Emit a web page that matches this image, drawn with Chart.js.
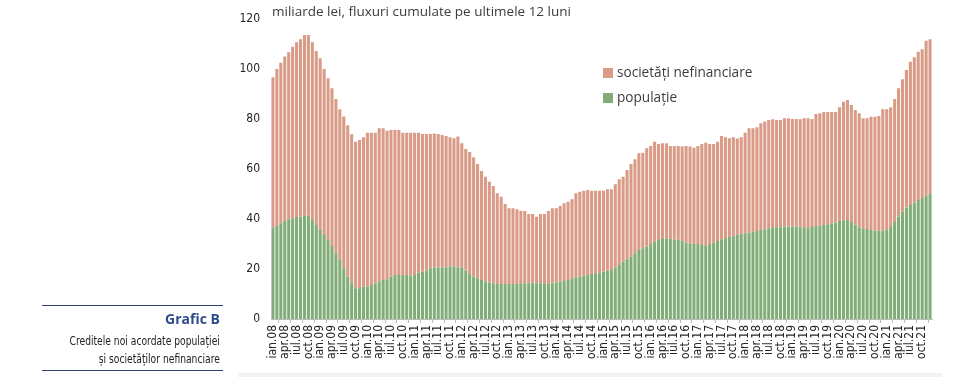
<!DOCTYPE html>
<html lang="ro">
<head>
<meta charset="utf-8">
<title>Grafic B</title>
<script src="https://cdn.jsdelivr.net/npm/chart.js@4.4.1/dist/chart.umd.min.js"></script>
<style>
    html, body { margin: 0; padding: 0; background: #fff; }
    #wrap { position: relative; width: 960px; height: 377px; overflow: hidden; }
    #chartBox { position: absolute; left: 0; top: 0; width: 960px; height: 377px; }
    .unit { position: absolute; left: 272px; top: 2px; font: 13.5px 'Open Sans', sans-serif; color: #3c3c3c; white-space: nowrap; }
    #legend { position: absolute; left: 603px; top: 62px; font: 13.6px 'Open Sans', sans-serif; color: #3c3c3c; }
    #legend div { height: 25px; line-height: 20px; white-space: nowrap; }
    #legend span { display: inline-block; width: 10px; height: 10px; margin-right: 4px; vertical-align: -1px; }
    .rule { position: absolute; left: 42px; width: 181px; height: 1px; border-top: 1.5px solid #2d4270; }
    .gtitle { position: absolute; right: 740px; top: 309px; font: bold 14px 'Open Sans', sans-serif; color: #2f4b8f; white-space: nowrap; }
    .gsub { position: absolute; right: 740px; top: 332px; font: 12px 'Liberation Sans Narrow', 'DejaVu Sans Condensed', sans-serif; color: #222; line-height: 18px; text-align: right; white-space: nowrap; transform: scaleX(0.85); transform-origin: right top; }
    .band { position: absolute; left: 238px; top: 373px; width: 704px; height: 4px; background: #f1f1f1; }
</style>
</head>
<body>
<div id="wrap">
    <div id="chartBox"><canvas id="creditChart"></canvas></div>
    <div class="unit">miliarde lei, fluxuri cumulate pe ultimele 12 luni</div>
    <div id="legend"></div>
    <div class="rule" style="top:305px"></div>
    <div class="gtitle">Grafic B</div>
    <div class="gsub">Creditele noi acordate populației<br>și societăților nefinanciare</div>
    <div class="rule" style="top:370px"></div>
    <div class="band"></div>
</div>
<script>
// luni / ani pentru axa X
const luni = ['ian', 'feb', 'mar', 'apr', 'mai', 'iun', 'iul', 'aug', 'sep', 'oct', 'nov', 'dec'];
const ani = ['08', '09', '10', '11', '12', '13', '14', '15', '16', '17', '18', '19', '20', '21'];
const categorii = [];
ani.forEach(an => luni.forEach(l => categorii.push(l + '.' + an)));

const yTicks = [0, 20, 40, 60, 80, 100, 120];

// populație (mld. lei, fluxuri cumulate 12 luni)
const populatie = [
    36.7, 37.2, 38.3, 39.2, 39.9, 40.3, 40.8, 40.9, 41.2, 41.3, 39.6, 37.6,
    35.6, 33.6, 31.6, 29.2, 26.3, 23.6, 20.3, 16.9, 14.3, 12.3, 12.3, 12.9,
    12.9, 13.6, 14.3, 14.9, 15.6, 15.9, 16.9, 17.6, 17.6, 17.6, 17.6, 17.3,
    17.6, 18.5, 18.9, 19.3, 20.3, 20.6, 20.6, 20.6, 20.7, 21.1, 21.1, 20.7,
    20.6, 19.3, 18.0, 16.9, 16.3, 15.6, 15.0, 14.6, 14.3, 14.0, 14.0, 14.0,
    14.0, 14.0, 14.0, 14.3, 14.3, 14.3, 14.6, 14.3, 14.3, 14.3, 14.0, 14.3,
    14.6, 15.0, 15.2, 15.6, 16.0, 16.7, 17.0, 17.3, 17.6, 18.0, 18.3, 18.6,
    18.9, 19.3, 19.6, 20.6, 21.6, 22.9, 23.9, 24.9, 26.3, 27.6, 28.3, 28.9,
    30.0, 30.9, 31.6, 32.0, 32.3, 32.0, 31.8, 31.6, 31.3, 30.5, 30.2, 30.0,
    30.0, 29.6, 29.2, 30.0, 30.5, 31.2, 31.9, 32.3, 32.8, 33.3, 33.7, 34.1,
    34.3, 34.5, 34.9, 35.2, 35.6, 35.9, 36.3, 36.7, 36.7, 36.7, 37.0, 37.0,
    37.0, 37.0, 36.7, 36.7, 36.3, 36.8, 37.2, 37.4, 37.6, 37.9, 38.2, 38.6,
    39.2, 39.5, 39.6, 38.8, 37.8, 36.7, 36.3, 36.0, 35.6, 35.3, 35.2, 35.3,
    35.6, 36.8, 38.8, 41.0, 43.0, 44.6, 45.6, 46.6, 47.6, 48.4, 49.3, 50.0
];

// societăți nefinanciare
const societati = [
    60.0, 62.8, 64.2, 65.8, 66.8, 68.6, 69.9, 71.0, 72.4, 72.3, 71.1, 69.6,
    68.7, 66.4, 64.7, 63.1, 61.7, 60.3, 60.7, 60.6, 59.6, 58.6, 59.3, 59.8,
    61.6, 60.9, 60.2, 61.4, 60.7, 59.4, 58.7, 58.0, 58.0, 56.9, 56.9, 57.2,
    56.9, 56.0, 55.1, 54.7, 53.7, 53.6, 53.4, 53.0, 52.5, 51.6, 51.2, 52.3,
    49.7, 48.7, 48.8, 47.8, 45.7, 43.6, 41.9, 40.3, 38.9, 36.3, 34.9, 32.0,
    30.3, 30.3, 29.9, 29.0, 28.9, 27.7, 27.4, 26.6, 27.7, 27.7, 29.2, 30.0,
    29.7, 30.2, 31.1, 31.3, 31.9, 33.6, 33.9, 34.0, 34.0, 33.3, 33.0, 32.7,
    32.4, 32.6, 32.3, 33.3, 34.3, 34.0, 35.7, 37.1, 37.6, 38.7, 38.2, 39.4,
    39.2, 40.0, 38.4, 38.3, 38.0, 37.2, 37.4, 37.6, 37.7, 38.7, 38.8, 38.5,
    39.2, 40.4, 41.3, 40.0, 39.5, 39.7, 41.3, 40.4, 39.5, 39.4, 38.5, 38.6,
    40.2, 41.8, 41.4, 41.5, 42.7, 43.1, 43.3, 43.2, 42.9, 42.9, 43.3, 43.3,
    43.0, 43.0, 43.2, 43.6, 44.0, 43.2, 44.8, 44.9, 45.2, 44.9, 44.6, 44.2,
    45.5, 47.4, 48.0, 46.8, 45.8, 45.6, 44.0, 44.3, 45.3, 45.6, 46.0, 48.6,
    48.3, 47.9, 49.2, 51.3, 52.9, 55.0, 57.3, 58.1, 59.3, 59.5, 62.0, 61.9
];

const narrowFont = "'Liberation Sans Narrow', 'DejaVu Sans Condensed', sans-serif";

function initCreditChart() {
    const ctx = document.getElementById('creditChart');
    if (!ctx || typeof Chart === 'undefined') {
        console.error('Chart.js sau canvas lipsă');
        return;
    }

    const chart = new Chart(ctx.getContext('2d'), {
        type: 'bar',
        data: {
            labels: categorii,
            datasets: [
                {
                    label: 'populație',
                    data: populatie,
                    backgroundColor: '#80ad78',
                    barPercentage: 0.78,
                    categoryPercentage: 1
                },
                {
                    label: 'societăți nefinanciare',
                    data: societati,
                    backgroundColor: '#d99a86',
                    barPercentage: 0.78,
                    categoryPercentage: 1
                }
            ]
        },
        options: {
            responsive: true,
            maintainAspectRatio: false,
            animation: false,
            layout: {
                padding: { left: 240, right: 28, top: 19, bottom: 5 }
            },
            plugins: {
                legend: { display: false },
                tooltip: { enabled: false }
            },
            scales: {
                x: {
                    stacked: true,
                    grid: {
                        drawOnChartArea: false,
                        drawTicks: true,
                        tickLength: 4,
                        color: '#bdbdbd'
                    },
                    border: { color: '#bdbdbd' },
                    ticks: {
                        autoSkip: false,
                        minRotation: 90,
                        maxRotation: 90,
                        padding: 2,
                        color: '#262626',
                        font: { family: narrowFont, size: 12 },
                        callback: function (v, i) {
                            return i % 3 === 0 ? this.getLabelForValue(v) : null;
                        }
                    },
                    afterFit: s => { s.height = 53; }
                },
                y: {
                    stacked: true,
                    min: yTicks[0],
                    max: yTicks[yTicks.length - 1],
                    grid: { display: false, drawTicks: false },
                    border: { display: false },
                    ticks: {
                        stepSize: 20,
                        padding: 11,
                        color: '#262626',
                        font: { family: narrowFont, size: 12 }
                    },
                    afterFit: s => { s.width = 31; }
                }
            }
        }
    });

    // legenda: societăți deasupra, populație dedesubt
    const leg = document.getElementById('legend');
    chart.data.datasets.slice().reverse().forEach(ds => {
        const row = document.createElement('div');
        row.innerHTML = '<span style="background:' + ds.backgroundColor + '"></span>' + ds.label;
        leg.appendChild(row);
    });
}

initCreditChart();
</script>
</body>
</html>
